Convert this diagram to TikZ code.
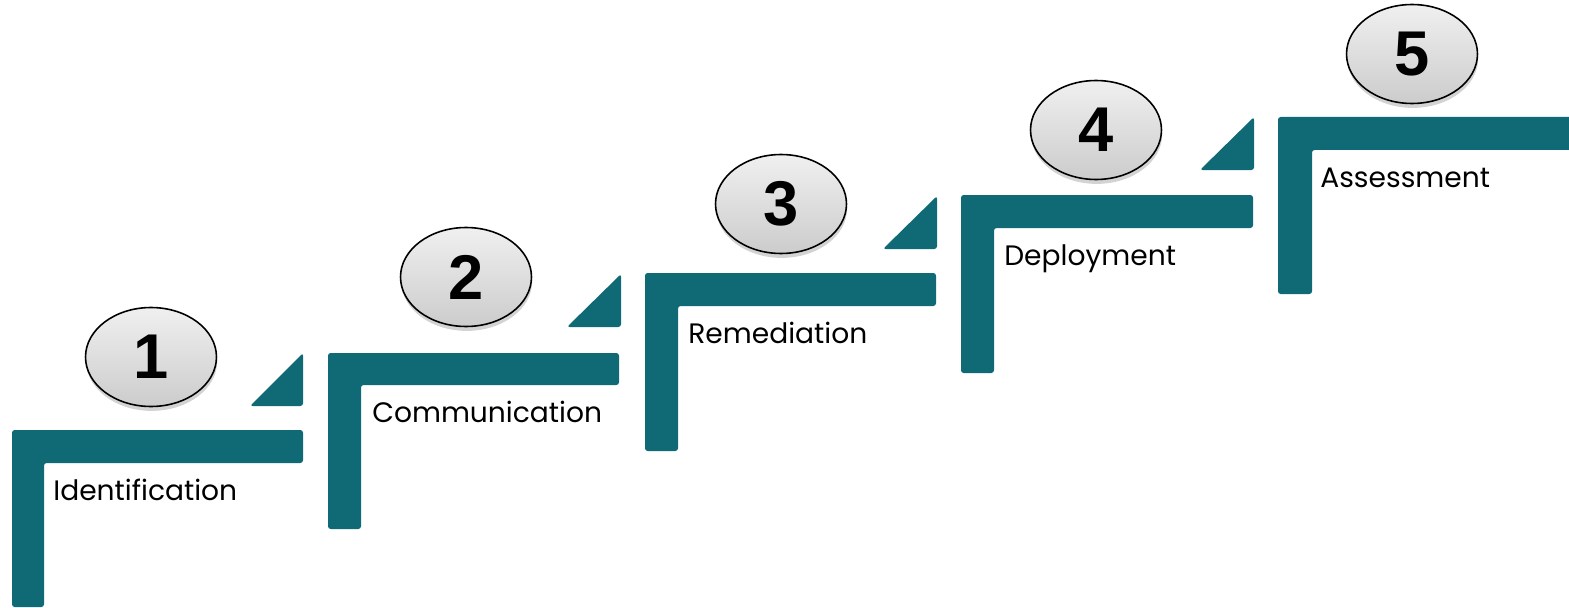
\documentclass[tikz,border=0pt]{standalone}
\usepackage{fontspec}
\usepackage{xcolor}
\usepackage{tikz}
\setmainfont{Poppins}
\newfontfamily\numfont{Liberation Sans}
\definecolor{stepteal}{RGB}{16,106,117}
\usetikzlibrary{shapes.geometric,shadows,positioning,calc}

\begin{document}
\begin{tikzpicture}[x=0.02cm, y=-0.02cm,
    stair/.style={fill=stepteal, draw=none, rounded corners=1.5pt},
    badge/.style={ellipse, draw=black, line width=0.9pt, minimum width=2.62cm, minimum height=1.98cm,
        top color=gray!12, bottom color=gray!40, drop shadow={shadow xshift=0.4pt, shadow yshift=-2.5pt, opacity=0.35},
        font=\numfont\bfseries\fontsize{36}{40}\selectfont, inner sep=0pt},
    steplabel/.style={anchor=base west, inner sep=0pt, font=\fontsize{16}{19}\selectfont}]
    \useasboundingbox (0,0) rectangle (1569,608);

    % step 1
    \fill[stair] (12,430) -- (303,430) -- (303,463) -- (44,463) -- (44,607) -- (12,607) -- cycle;
    \fill[stair] (250,406) -- (303,353) -- (303,406) -- cycle;
    \node[badge] (num1) at (151,357) {1};
    \node[steplabel] (lbl1) at (53,500) {Identification};

    % step 2
    \fill[stair] (328,353) -- (619,353) -- (619,385) -- (361,385) -- (361,529) -- (328,529) -- cycle;
    \fill[stair] (567,327) -- (621,274) -- (621,327) -- cycle;
    \node[badge] (num2) at (466,277) {2};
    \node[steplabel] (lbl2) at (372,422) {Communication};

    % step 3
    \fill[stair] (645,273) -- (936,273) -- (936,306) -- (678,306) -- (678,451) -- (645,451) -- cycle;
    \fill[stair] (883,249) -- (937,196) -- (937,249) -- cycle;
    \node[badge] (num3) at (781,204) {3};
    \node[steplabel] (lbl3) at (688,343) {Remediation};

    % step 4
    \fill[stair] (961,195) -- (1253,195) -- (1253,228) -- (994,228) -- (994,373) -- (961,373) -- cycle;
    \fill[stair] (1200,170) -- (1254,117) -- (1254,170) -- cycle;
    \node[badge] (num4) at (1096,130) {4};
    \node[steplabel] (lbl4) at (1004,265) {Deployment};

    % step 5
    \fill[stair] (1278,117) -- (1572,117) -- (1572,150) -- (1312,150) -- (1312,294) -- (1278,294) -- cycle;
    \node[badge] (num5) at (1412,54) {5};
    \node[steplabel] (lbl5) at (1320,187) {Assessment};
\end{tikzpicture}
\end{document}
